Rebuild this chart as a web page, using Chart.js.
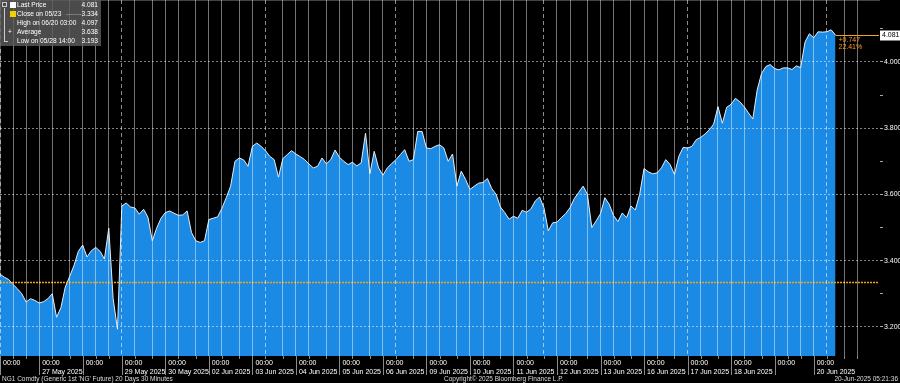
<!DOCTYPE html>
<html><head><meta charset="utf-8">
<script src="https://cdn.jsdelivr.net/npm/chart.js@4.4.1/dist/chart.umd.min.js"></script>
<style>
html,body{margin:0;padding:0;background:#000;width:900px;height:383px;overflow:hidden;font-family:"Liberation Sans",Arial,sans-serif;}
#wrap{position:absolute;left:0;top:0;width:900px;height:376px;}
#legend{position:absolute;left:0;top:0;width:101px;height:46px;background:rgba(92,92,92,0.82);color:#fff;font-size:6.6px;}
.row{position:absolute;left:0;width:101px;height:9px;line-height:9px;white-space:nowrap;}
.lab{position:absolute;left:17px;}
.val{position:absolute;right:3px;}
.ico{position:absolute;left:10px;top:1.5px;width:6px;height:6px;}
.tr{position:absolute;background:#ccc;}
#footer{position:absolute;left:0;top:375px;width:900px;height:8px;font-size:6.5px;line-height:8px;color:#ddd;white-space:nowrap;}
#footer span{position:absolute;top:0;}
</style></head>
<body>
<div id="wrap"><canvas id="c"></canvas></div>
<div id="legend">
  <div class="tr" style="left:2px;top:2px;width:5px;height:5px;background:none;border:1px solid #ccc;box-sizing:border-box;"></div>
  <div class="tr" style="left:4px;top:8px;width:1px;height:33px;"></div>
  <div class="tr" style="left:4px;top:41px;width:4px;height:1px;"></div>
  <div class="row" style="top:0px"><div class="ico" style="background:#fff"></div><span class="lab">Last Price</span><span class="val">4.081</span></div>
  <div class="row" style="top:9px"><div class="ico" style="background:#f5d000"></div><span class="lab">Close on 05/23</span><span style="position:absolute;left:66px;color:#bbb">-------</span><span class="val">3.334</span></div>
  <div class="row" style="top:18px"><span class="lab">High on 06/20 03:00</span><span class="val">4.097</span></div>
  <div class="row" style="top:27px"><span class="lab" style="left:8px">+ </span><span class="lab">Average</span><span class="val">3.638</span></div>
  <div class="row" style="top:36px"><span class="lab">Low on 05/28 14:00</span><span class="val">3.193</span></div>
</div>
<div id="footer">
  <span style="left:2px">NG1 Comdty (Generic 1st 'NG' Future) 20 Days 30 Minutes</span>
  <span style="left:444px">Copyright© 2025 Bloomberg Finance L.P.</span>
  <span style="right:2px">20-Jun-2025 05:21:36</span>
</div>
<script>
// ---- data ----
const dayNames = ['26 May 2025','27 May 2025','28 May 2025','29 May 2025','30 May 2025','02 Jun 2025','03 Jun 2025','04 Jun 2025','05 Jun 2025','06 Jun 2025','09 Jun 2025','10 Jun 2025','11 Jun 2025','12 Jun 2025','13 Jun 2025','16 Jun 2025','17 Jun 2025','18 Jun 2025','19 Jun 2025','20 Jun 2025','21 Jun 2025'];
const daySlots = [9,10,9,10,10,10,10,10,10,10,10,10,10,10,10,10,10,10,9,10,6];
const dayTickTime = ['00:00','00:00','00:00','00:00','00:00','00:00','00:00','00:00','00:00','00:00','00:00','00:00','00:00','00:00','00:00','00:00','00:00','00:00','00:00','00:00',''];
const dayTickDate = ['','27 May 2025','','29 May 2025','30 May 2025','02 Jun 2025','03 Jun 2025','04 Jun 2025','05 Jun 2025','06 Jun 2025','09 Jun 2025','10 Jun 2025','11 Jun 2025','12 Jun 2025','13 Jun 2025','16 Jun 2025','17 Jun 2025','18 Jun 2025','','20 Jun 2025',''];
const prices = [
3.359,3.350,3.343,3.328,3.315,3.300,3.275,3.285,3.280,3.272,
3.276,3.285,3.300,3.229,3.258,3.320,3.352,3.385,3.428,3.447,
3.411,3.430,3.440,3.428,3.405,3.498,3.285,3.193,3.565,3.574,
3.562,3.559,3.540,3.555,3.531,3.460,3.498,3.528,3.545,3.550,
3.543,3.537,3.538,3.550,3.485,3.460,3.455,3.460,3.524,3.528,
3.532,3.558,3.590,3.625,3.700,3.710,3.704,3.685,3.745,3.755,
3.745,3.732,3.715,3.705,3.652,3.708,3.720,3.732,3.722,3.714,
3.705,3.692,3.680,3.685,3.710,3.692,3.705,3.734,3.712,3.700,
3.690,3.697,3.686,3.695,3.785,3.662,3.730,3.680,3.658,3.680,
3.693,3.705,3.720,3.735,3.700,3.705,3.790,3.790,3.740,3.738,
3.745,3.750,3.740,3.700,3.722,3.625,3.670,3.645,3.615,3.625,
3.634,3.636,3.648,3.618,3.600,3.562,3.545,3.525,3.534,3.528,
3.552,3.546,3.556,3.580,3.592,3.560,3.490,3.514,3.516,3.530,
3.542,3.560,3.588,3.606,3.625,3.600,3.500,3.520,3.542,3.590,
3.570,3.536,3.518,3.544,3.530,3.565,3.553,3.600,3.678,3.668,
3.662,3.665,3.680,3.705,3.690,3.660,3.715,3.742,3.740,3.745,
3.765,3.772,3.782,3.795,3.812,3.865,3.815,3.863,3.872,3.890,
3.880,3.865,3.846,3.828,3.915,3.965,3.986,3.992,3.980,3.976,
3.982,3.982,3.977,3.988,3.983,4.060,4.085,4.073,4.091,4.090,
4.091,4.097,4.081
];
const yMajorTicks = [3.2,3.4,3.6,3.8,4.0];
const yMinorTicks = [3.3,3.5,3.7,3.9,4.1];
const yRange = [3.112, 4.187];
const closePrice = 3.334;
const lastPrice = 4.081;
const changeText = ['+0.747','22.41%'];

// ---- build categories and tick kinds ----
const categories = [], tickKind = [], tickLabel = [];
dayNames.forEach((d, di) => {
  const n = daySlots[di];
  const minor = n >= 10 ? [3,7] : (n === 9 ? [3,6] : []);
  for (let k = 0; k < n; k++) {
    const mins = Math.round(k * 1440 / (di === dayNames.length - 1 ? 10 : n));
    const hh = String(Math.floor(mins / 60)).padStart(2,'0'), mm = String(mins % 60).padStart(2,'0');
    categories.push(d + ' ' + hh + ':' + mm);
    if (k === 0) { tickKind.push('day'); tickLabel.push(dayTickDate[di] ? [dayTickTime[di], dayTickDate[di]] : (dayTickTime[di] ? [dayTickTime[di]] : '')); }
    else if (minor.includes(k) && di < dayNames.length - 1) { tickKind.push('minor'); tickLabel.push(''); }
    else { tickKind.push(null); tickLabel.push(null); }
  }
});
const yAllTicks = yMajorTicks.concat(yMinorTicks).sort((p, q) => p - q);
const isMajor = v => yMajorTicks.some(m => Math.abs(m - v) < 1e-6);

const FONT = '"Liberation Sans", Arial, sans-serif';

const overlay = {
  id: 'overlay',
  afterDatasetsDraw(chart) {
    const {ctx, chartArea: a, scales: {y}} = chart;
    const yc = Math.round(y.getPixelForValue(closePrice)) + 0.5;
    ctx.save();
    ctx.strokeStyle = '#f0a418'; ctx.lineWidth = 1.3; ctx.setLineDash([2, 1]);
    ctx.beginPath(); ctx.moveTo(a.left, yc); ctx.lineTo(a.right, yc); ctx.stroke();
    ctx.restore();
  },
  afterDraw(chart) {
    const {ctx, chartArea: a, scales: {x, y}} = chart;
    ctx.save();
    ctx.strokeStyle = '#8a8a8a'; ctx.lineWidth = 1;
    tickKind.forEach((k, i) => {
      if (!k) return;
      const px = Math.round(x.getPixelForValue(i)) + 0.5;
      ctx.beginPath(); ctx.moveTo(px, a.bottom); ctx.lineTo(px, a.bottom + (k === 'day' && tickLabel[i] ? 19 : 3)); ctx.stroke();
    });
    const yl = Math.round(y.getPixelForValue(lastPrice)) + 0.5;
    const xe = x.getPixelForValue(prices.length - 1);
    ctx.strokeStyle = '#f0a418'; ctx.lineWidth = 1;
    ctx.beginPath(); ctx.moveTo(xe, yl); ctx.lineTo(a.right, yl); ctx.stroke();
    ctx.fillStyle = '#fff';
    ctx.fillRect(a.right + 1, yl - 5, 20, 10);
    ctx.fillStyle = '#000'; ctx.font = '7px ' + FONT; ctx.textBaseline = 'middle'; ctx.textAlign = 'left';
    ctx.fillText(lastPrice.toFixed(3), a.right + 3, yl);
    ctx.fillStyle = '#ff9a1a'; ctx.font = '7px ' + FONT; ctx.textBaseline = 'top';
    ctx.fillText(changeText[0], xe + 3, yl + 1);
    ctx.fillText(changeText[1], xe + 3, yl + 8);
    ctx.restore();
  }
};

new Chart(document.getElementById('c'), {
  type: 'line',
  data: {
    labels: categories,
    datasets: [{
      data: prices,
      borderColor: '#e6eef5',
      borderWidth: 1,
      backgroundColor: '#1b8ae4',
      fill: 'start',
      pointRadius: 0,
      pointHoverRadius: 0,
      tension: 0
    }]
  },
  options: {
    responsive: true, maintainAspectRatio: false, animation: false, devicePixelRatio: 1,
    layout: {padding: 0, autoPadding: false},
    plugins: {legend: {display: false}, tooltip: {enabled: false}},
    scales: {
      x: {
        type: 'category', offset: false,
        afterFit: s => { s.paddingLeft = 0; s.paddingRight = 0; s.height = 20; },
        grid: {
          z: 1, drawTicks: false,
          color: c => tickKind[c.index] === 'day' ? 'rgba(255,255,255,0.55)' : 'rgba(255,255,255,0.45)',
          lineWidth: 1
        },
        border: {display: true, color: '#888', dash: c => tickKind[c.index] === 'day' ? [4, 3] : []},
        ticks: {
          autoSkip: false, maxRotation: 0, minRotation: 0, align: 'start', labelOffset: 3, padding: 3,
          color: '#fff', font: {family: FONT, size: 7, lineHeight: 1.2},
          callback: (v, i) => tickLabel[i]
        }
      },
      y: {
        position: 'right', min: yRange[0], max: yRange[1],
        afterFit: s => { s.paddingTop = 0; s.paddingBottom = 0; s.width = 21; },
        afterBuildTicks: s => { s.ticks = yAllTicks.map(v => ({value: v})); },
        grid: {
          z: 1, drawTicks: true, tickLength: 4, tickColor: '#aaa',
          color: c => isMajor(yAllTicks[c.index]) ? 'rgba(255,255,255,0.5)' : 'rgba(0,0,0,0)'
        },
        border: {display: true, color: '#888', dash: [2, 2]},
        ticks: {
          padding: 1, color: '#fff', font: {family: FONT, size: 7},
          callback: (v, i) => isMajor(yAllTicks[i]) ? yAllTicks[i].toFixed(3) : ''
        }
      }
    }
  },
  plugins: [overlay]
});
</script>
</body></html>
